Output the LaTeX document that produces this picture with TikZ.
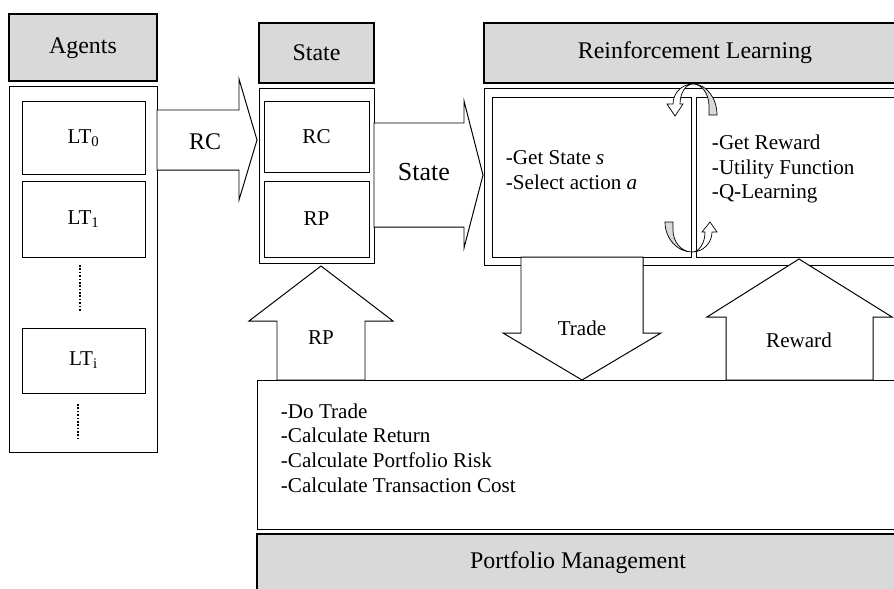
\documentclass[tikz,border=0pt]{standalone}
\usepackage{fontspec}
\setmainfont{Liberation Serif}
\definecolor{hdrgray}{HTML}{D9D9D9}
\tikzset{
  hdrbox/.style={draw, fill=hdrgray, line width=0.9pt},
  framebox/.style={draw, line width=0.7pt},
  blockarrow/.style={draw, fill=white, line width=0.7pt, line join=miter},
  bendarrow/.style={draw, line width=0.5pt},
  hdrtext/.style={font=\fontsize{17}{20}\selectfont},
  bodytext/.style={font=\fontsize{15}{17.6}\selectfont, align=left},
  dots/.style={line width=1.5pt, dash pattern=on 1.2pt off 1.2pt},
}
\begin{document}
\begin{tikzpicture}[x=0.025cm,y=-0.025cm]
                \useasboundingbox (0,0) rectangle (894,588);
                \clip (0,0) rectangle (894,588);

                % agents column
                \draw[hdrbox] (9,14) rectangle (157,81);
                \draw[framebox] (9,86) rectangle (157,452);
                \draw[framebox] (22,101) rectangle (145,174);
                \draw[framebox] (22,181) rectangle (145,257);
                \draw[framebox] (22,328) rectangle (145,393);
                \draw[dots] (80,265) -- (80,311);
                \draw[dots] (78,404) -- (78,439);
                \node[hdrtext] (Ag) at (83,48) {Agents};
                \node[bodytext] (LT0) at (83.5,138) {LT\textsubscript{0}};
                \node[bodytext] (LT1) at (83.5,219) {LT\textsubscript{1}};
                \node[bodytext] (LTi) at (83.5,360) {LT\textsubscript{i}};

                % state column
                \draw[hdrbox] (259,23) rectangle (374,83);
                \draw[framebox] (259,88) rectangle (374,263);
                \draw[framebox] (264,101) rectangle (369,172);
                \draw[framebox] (264,181) rectangle (369,257);
                \node[hdrtext] (St) at (316.5,53) {State};
                \node[bodytext] (SRC) at (316.5,137) {RC};
                \node[bodytext] (SRP) at (316.5,219) {RP};

                % reinforcement learning
                \draw[hdrbox] (484,23) rectangle (900,83);
                \draw[framebox] (484,88) rectangle (900,265);
                \draw[framebox] (492,97) rectangle (691,257);
                \draw[framebox] (696,97) rectangle (900,257);
                \node[hdrtext] (RL) at (695,53) {Reinforcement Learning};
                \node[bodytext, anchor=west] (Act) at (501,170)
                    {-Get State \textit{s}\\-Select action \textit{a}};
                \node[bodytext, anchor=west] (Rew) at (707,169)
                    {-Get Reward\\-Utility Function\\-Q-Learning};

                % loop between the two halves
                \draw[bendarrow, fill=hdrgray] (693,84) arc[start angle=270, end angle=360, x radius=24, y radius=31]
                    -- (709,115) -- (709,106) arc[start angle=360, end angle=270, x radius=16, y radius=22] -- cycle;
                \draw[bendarrow, fill=white] (693,84) arc[start angle=270, end angle=180, x radius=20, y radius=20]
                    -- (667,104) -- (675,116) -- (683,104) -- (680,104)
                    arc[start angle=180, end angle=270, x radius=13, y radius=20] -- cycle;
                \draw[bendarrow, fill=hdrgray] (665,222) arc[start angle=180, end angle=90, x radius=27, y radius=30]
                    arc[start angle=90, end angle=180, x radius=19, y radius=22] -- (673,222) -- cycle;
                \draw[bendarrow, fill=white] (692,252) arc[start angle=90, end angle=0, x radius=20, y radius=20]
                    -- (717,232) -- (710,222) -- (702,232) -- (705,232)
                    arc[start angle=0, end angle=90, x radius=13, y radius=20] -- cycle;

                % portfolio management
                \draw[framebox] (257,380) rectangle (900,529);
                \draw[hdrbox] (257,534) rectangle (900,600);
                \node[bodytext, anchor=west] (Do) at (276,448)
                    {-Do Trade\\-Calculate Return\\-Calculate Portfolio Risk\\-Calculate Transaction Cost};
                \node[hdrtext] (PM) at (578,563) {Portfolio Management};

                % block arrows
                \draw[blockarrow] (157,110) -- (239,110) -- (239,79) -- (257,140)
                    -- (239,200) -- (239,170) -- (157,170) -- cycle;
                \node[hdrtext] (RC) at (205,142) {RC};
                \draw[blockarrow] (374,123) -- (464,123) -- (464,101) -- (483,175)
                    -- (464,248) -- (464,227) -- (374,227) -- cycle;
                \node[font=\fontsize{18.5}{22}\selectfont] (SA) at (424,172) {State};
                \draw[blockarrow] (277,380) -- (277,321) -- (249,321) -- (321,266)
                    -- (393,321) -- (365,321) -- (365,380) -- cycle;
                \node[bodytext] (RP) at (321,338) {RP};
                \draw[blockarrow] (521,257) -- (521,333) -- (503,333) -- (582,380)
                    -- (661,333) -- (643,333) -- (643,257) -- cycle;
                \node[bodytext] (Tr) at (582,328) {Trade};
                \draw[blockarrow] (726,380) -- (726,317) -- (707,317) -- (799,259)
                    -- (892,317) -- (873,317) -- (873,380) -- cycle;
                \node[bodytext] (Rw) at (799,340) {Reward};

\end{tikzpicture}
\end{document}
